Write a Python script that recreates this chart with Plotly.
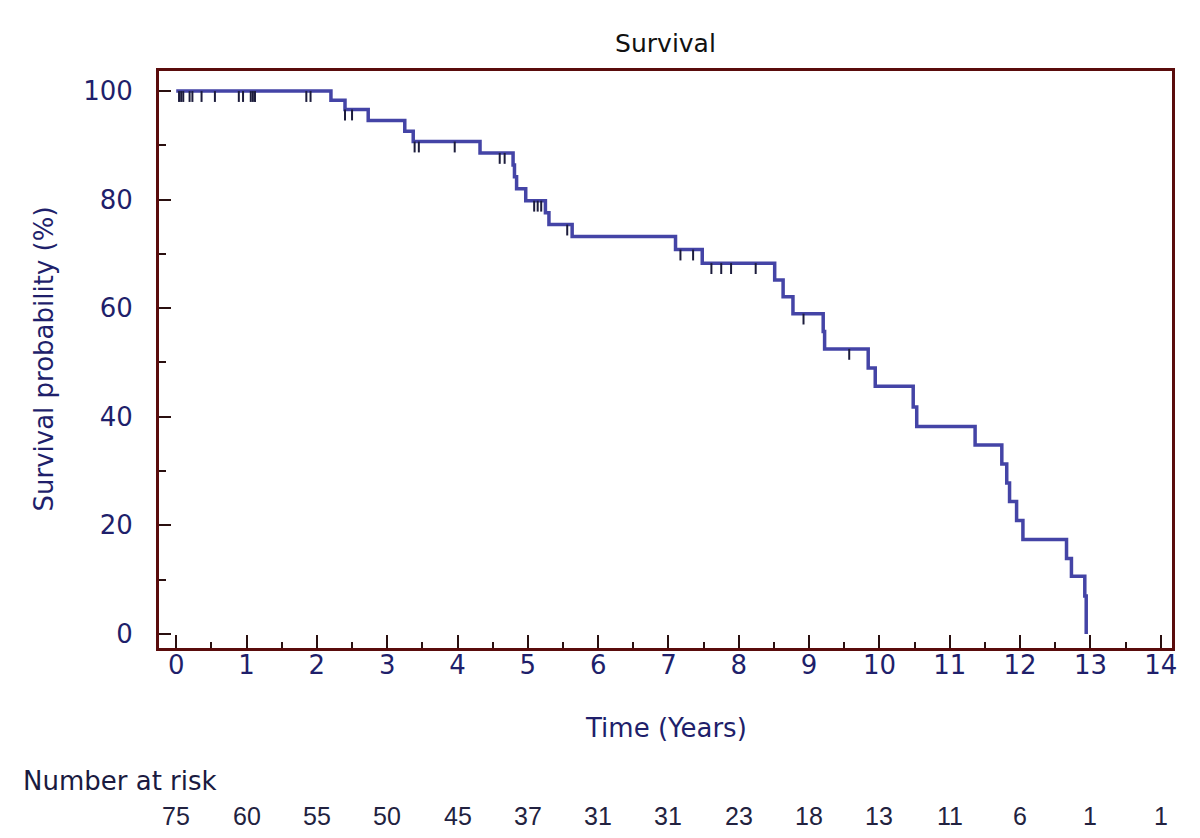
import plotly.graph_objects as go

# ---- data ----
event_times = [2.20, 2.40, 2.73, 3.25, 3.37, 4.32, 4.79, 4.81, 4.84, 4.97, 5.25, 5.30, 5.63,
               7.10, 7.48, 8.51, 8.63, 8.77, 9.20, 9.22, 9.84, 9.94, 10.48, 10.53, 11.36,
               11.74, 11.81, 11.85, 11.95, 12.04, 12.66, 12.73, 12.92, 12.94]
surv_after = [98.3, 96.6, 94.6, 92.6, 90.7, 88.6, 86.4, 84.2, 82.0, 79.8, 77.6, 75.4, 73.2,
              70.8, 68.3, 65.2, 62.1, 59.0, 55.7, 52.5, 49.0, 45.6, 41.8, 38.2, 34.8,
              31.3, 27.8, 24.4, 20.9, 17.4, 13.9, 10.6, 7.0, 0.0]
censor_times = [0.04, 0.07, 0.10, 0.19, 0.23, 0.36, 0.55, 0.89, 0.95, 1.06, 1.09, 1.12,
                1.85, 1.91, 2.40, 2.50, 3.39, 3.45, 3.96, 4.60, 4.67, 5.09, 5.14, 5.19,
                5.56, 7.17, 7.35, 7.61, 7.75, 7.89, 8.24, 8.92, 9.57]
risk_times = list(range(0, 15))
number_at_risk = [75, 60, 55, 50, 45, 37, 31, 31, 23, 18, 13, 11, 6, 1, 1]

# ---- step curve ----
xs = [0.0] + event_times
ys = [100.0] + surv_after

def surv_at(t):
    s = 100.0
    for et, sv in zip(event_times, surv_after):
        if et <= t:
            s = sv
    return s

cens_y = [surv_at(t) for t in censor_times]

NAVY = '#1f1f6b'
FRAME = '#5a0c0c'
FONT = 'DejaVu Sans'
FONT2 = 'Liberation Sans'

fig = go.Figure()
fig.add_trace(go.Scatter(x=xs, y=ys, mode='lines', line=dict(color='#4444a6', width=3.5, shape='hv'),
                         hoverinfo='skip', showlegend=False))

# censor ticks hanging below the curve
cx, cy = [], []
for t, s in zip(censor_times, cens_y):
    cx += [t, t, None]
    cy += [s, s - 2.0, None]
fig.add_trace(go.Scatter(x=cx, y=cy, mode='lines', line=dict(color='#1c1c3c', width=2),
                         hoverinfo='skip', showlegend=False))

# number at risk
for t, n in zip(risk_times, number_at_risk):
    fig.add_annotation(x=t, xref='x', y=-0.291, yref='paper', text=str(n), showarrow=False,
                       font=dict(family=FONT2, size=25, color='#222240'), xanchor='center', yanchor='middle')
fig.add_annotation(x=-0.136, xref='paper', y=-0.2305, yref='paper', text='Number at risk', showarrow=False,
                   font=dict(family=FONT, size=26, color='#1a1a40'), xanchor='left', yanchor='middle')

# axis titles
fig.add_annotation(x=0.5, xref='paper', y=-0.1386, yref='paper', text='Time (Years)', showarrow=False,
                   font=dict(family=FONT, size=26, color=NAVY), xanchor='center', yanchor='middle')
fig.add_annotation(x=-0.1145, xref='paper', y=0.5, yref='paper', text='Survival probability (%)',
                   showarrow=False, textangle=-90,
                   font=dict(family=FONT, size=26, color=NAVY), xanchor='center', yanchor='middle')

fig.update_layout(
    width=1200, height=838,
    paper_bgcolor='white', plot_bgcolor='white',
    margin=dict(l=151, r=36, t=63, b=198),
    title=dict(text='Survival', x=0.5, xref='paper', xanchor='center', y=0.958, yanchor='middle',
               font=dict(family=FONT, size=25, color='#111111')),
    font=dict(family=FONT),
)
fig.update_xaxes(range=[-0.245, 14.16], tickmode='linear', tick0=0, dtick=1,
                 ticks='inside', ticklen=13, tickwidth=2, tickcolor='#2a1010',
                 minor=dict(ticks='inside', ticklen=6, tickwidth=2, tickcolor='#2a1010', dtick=0.5, tick0=0),
                 showline=True, linecolor=FRAME, linewidth=3, mirror=True,
                 showgrid=False, zeroline=False,
                 tickfont=dict(family=FONT, size=26, color=NAVY), ticklabelstandoff=-8)
fig.update_yaxes(range=[-2.6, 103.7], tickmode='linear', tick0=0, dtick=20,
                 ticks='inside', ticklen=12, tickwidth=2, tickcolor='#2a1010',
                 minor=dict(ticks='inside', ticklen=7, tickwidth=2, tickcolor='#2a1010', dtick=10, tick0=0),
                 showline=True, linecolor=FRAME, linewidth=3, mirror=True,
                 showgrid=False, zeroline=False,
                 tickfont=dict(family=FONT, size=26, color=NAVY), ticklabelstandoff=18)

fig.write_html('out.html')
